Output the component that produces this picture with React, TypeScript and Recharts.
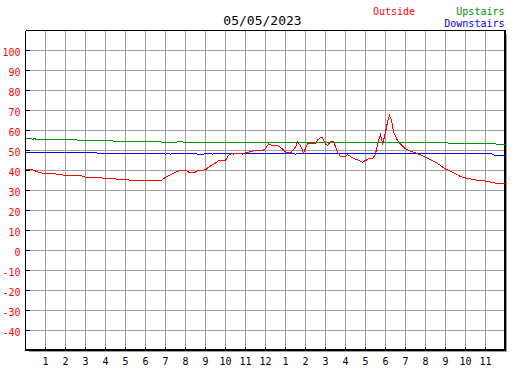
import React from 'react';
import { LineChart, Line, XAxis, YAxis, CartesianGrid, ReferenceLine, Customized } from 'recharts';

const chartTitle = '05/05/2023';
const seriesNames = ['Outside', 'Upstairs', 'Downstairs'];
const hourTicks = [1, 2, 3, 4, 5, 6, 7, 8, 9, 10, 11, 12, 13, 14, 15, 16, 17, 18, 19, 20, 21, 22, 23];
const tempTicks = [-40, -30, -20, -10, 0, 10, 20, 30, 40, 50, 60, 70, 80, 90, 100];

const outsideHours = [
  0, 0.35, 0.75, 1.25, 1.75, 2.0, 2.75, 3.0, 3.25, 3.75, 4.25, 4.75, 5.25, 5.75, 6.25, 6.8,
  7.0, 7.25, 7.5, 7.75, 8.05, 8.15, 8.5, 8.6, 9.0, 9.15, 9.35, 9.5, 9.65, 10.0, 10.15, 10.25,
  10.75, 11.0, 11.25, 11.5, 11.85, 12.0, 12.15, 12.35, 12.6, 12.85, 13.0, 13.25, 13.5, 13.6,
  13.75, 13.9, 14.1, 14.35, 14.5, 14.6, 14.75, 14.85, 15.0, 15.1, 15.25, 15.4, 15.6, 15.75,
  16.0, 16.1, 16.35, 16.6, 16.85, 17.0, 17.15, 17.35, 17.5, 17.65, 17.75, 17.85, 17.95, 18.1,
  18.2, 18.3, 18.4, 18.6, 18.75, 19.0, 19.25, 19.5, 19.75, 20.0, 20.25, 20.5, 20.75, 21.0,
  21.25, 21.5, 21.75, 22.0, 22.25, 22.5, 22.75, 23.0, 23.25, 23.5, 23.95,
];
const outsideTemps = [
  40.3, 40.3, 38.8, 38.5, 38, 37.5, 37.5, 36.7, 36.5, 36.3, 36, 35.5, 35.2, 35, 34.8, 35,
  36.7, 37.8, 39.2, 40, 40, 39.2, 39.2, 40, 40.3, 41.7, 42.8, 43.7, 45, 45, 47.5, 48.3,
  48.3, 48.8, 49.5, 50, 50, 50.8, 53.3, 52.5, 52.5, 50.8, 49.2, 48.7, 51.7, 54.2,
  52.5, 48.7, 53.3, 53.3, 53.7, 55.3, 56.3, 56.3, 53.3, 52.5, 54.5, 54.5, 49.2, 47,
  47, 48, 46.3, 45.3, 44.2, 45, 45.8, 45.8, 48.3, 55, 57.8, 53.7, 56.7, 64.2,
  67.5, 65, 59.2, 55, 53.3, 50.8, 49.7, 48.8, 47.8, 46.7, 45.3, 44.2, 42.5, 40.7,
  39.7, 38.3, 37, 36.3, 35.8, 35.3, 35, 34.7, 34.2, 33.7, 33.3,
];

const upstairsHours = [0, 0.3, 0.35, 0.45, 0.55, 2.55, 2.6, 4.35, 4.4, 6.75, 6.8, 7.55, 7.6, 7.85, 7.9, 21.1, 21.15, 23.5, 23.55, 24];
const upstairsTemps = [56, 56, 55.5, 56, 55.5, 55.5, 55, 55, 54.5, 54.5, 54, 54, 54.5, 54.5, 54, 54, 53.5, 53.5, 53, 53];

const downstairsHours = [
  0, 3.55, 3.6, 6.95, 7.0, 7.05, 7.2, 7.25, 7.3, 8.55, 8.6, 8.9, 8.95, 9.3, 9.35, 9.4,
  10.35, 10.4, 10.45, 10.8, 10.85, 10.9, 13.45, 13.5, 13.55, 23.3, 23.35, 23.4, 23.45, 24,
];
const downstairsTemps = [
  49, 49, 48.5, 48.5, 48, 48.5, 48.5, 48, 48.5, 48.5, 48, 48, 48.5, 48.5, 48, 48.5,
  48.5, 48, 48.5, 48.5, 48, 48.5, 48.5, 48, 48.5, 48.5, 48, 48, 47.5, 47.5,
];

const toRows = (hours: number[], temps: number[]) => hours.map((h, i) => ({ h, t: temps[i] }));
const outsideData = toRows(outsideHours, outsideTemps);
const upstairsData = toRows(upstairsHours, upstairsTemps);
const downstairsData = toRows(downstairsHours, downstairsTemps);

const RED = '#ff0000';
const GREEN = '#009000';
const BLUE = '#0000ff';
const GRID = '#a0a0a0';
const FONT = '"DejaVu Sans Mono", "Liberation Mono", monospace';

const hourLabel = (h: number) => String(h % 12 === 0 ? 12 : h % 12);

const XTick = (props: any) => {
  const { x, y, payload } = props;
  return (
    <g>
      <line x1={x} y1={y - 4} x2={x} y2={y} stroke="#000" strokeWidth={1} />
      <text x={x} y={y + 14} textAnchor="middle" fontFamily={FONT} fontSize={10} fill="#000">
        {hourLabel(payload.value)}
      </text>
    </g>
  );
};

const YTick = (props: any) => {
  const { x, y, payload } = props;
  return (
    <g>
      <line x1={x} y1={y} x2={x + 4} y2={y} stroke="#000" strokeWidth={1} />
      <text x={x - 5} y={y + 5} textAnchor="end" fontFamily={FONT} fontSize={10} fill={RED}>
        {payload.value}
      </text>
    </g>
  );
};

const Headings = () => (
  <g>
    <text x={262.5} y={25} textAnchor="middle" fontFamily={FONT} fontSize={13} fill="#000">
      {chartTitle}
    </text>
    <text x={373} y={14.5} textAnchor="start" fontFamily={FONT} fontSize={10} fill={RED}>
      {seriesNames[0]}
    </text>
    <text x={504.5} y={14.5} textAnchor="end" fontFamily={FONT} fontSize={10} fill={GREEN}>
      {seriesNames[1]}
    </text>
    <text x={504.5} y={26.5} textAnchor="end" fontFamily={FONT} fontSize={10} fill={BLUE}>
      {seriesNames[2]}
    </text>
  </g>
);

export default function App() {
  return (
    <div style={{ position: 'absolute', left: 0, top: 0, width: 527, height: 370, background: '#fff' }}>
      <style>{'.recharts-surface path, .recharts-surface line { shape-rendering: crispEdges; }'}</style>
      <LineChart
        width={527}
        height={370}
        margin={{ top: 30.5, right: 21.5, bottom: 0, left: 0.5 }}
      >
        <CartesianGrid stroke={GRID} strokeWidth={1} horizontal vertical />
        <XAxis
          dataKey="h"
          type="number"
          domain={[0, 24]}
          ticks={hourTicks}
          allowDataOverflow
          height={19.5}
          axisLine={{ stroke: '#000', strokeWidth: 1 }}
          tickLine={false}
          tickSize={0}
          tickMargin={0}
          tick={<XTick />}
          interval={0}
        />
        <YAxis
          type="number"
          domain={[-50, 110]}
          ticks={tempTicks}
          allowDataOverflow
          width={25}
          axisLine={{ stroke: '#000', strokeWidth: 1 }}
          tickLine={false}
          tickSize={0}
          tickMargin={0}
          tick={<YTick />}
          interval={0}
        />
        <ReferenceLine y={110} stroke="#000" strokeWidth={1} ifOverflow="visible" />
        <ReferenceLine y={-49.5} stroke="#000" strokeWidth={1} ifOverflow="visible" />
        <ReferenceLine x={24} stroke="#000" strokeWidth={1} ifOverflow="visible" />
        <ReferenceLine x={23.95} stroke="#000" strokeWidth={1} ifOverflow="visible" />
        <ReferenceLine
          segment={[{ x: 24.05, y: 108.5 }, { x: 24.05, y: -50.5 }]}
          stroke={GRID}
          strokeWidth={1}
          ifOverflow="visible"
        />
        <ReferenceLine
          segment={[{ x: 0.15, y: -50.5 }, { x: 24.05, y: -50.5 }]}
          stroke={GRID}
          strokeWidth={1}
          ifOverflow="visible"
        />
        <Line data={upstairsData} dataKey="t" stroke={GREEN} strokeWidth={1} dot={false} type="linear" isAnimationActive={false} />
        <Line data={downstairsData} dataKey="t" stroke={BLUE} strokeWidth={1} dot={false} type="linear" isAnimationActive={false} />
        <Line data={outsideData} dataKey="t" stroke={RED} strokeWidth={1} dot={false} type="linear" isAnimationActive={false} />
        <Customized component={Headings} />
      </LineChart>
    </div>
  );
}
